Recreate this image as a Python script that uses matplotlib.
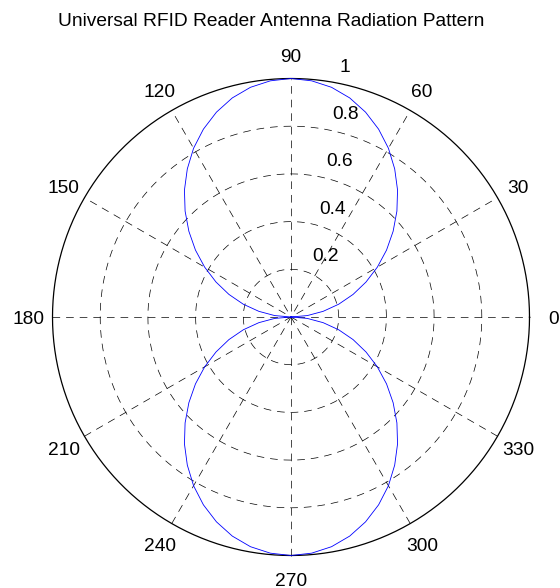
import numpy as np
import matplotlib
matplotlib.use("Agg")
import matplotlib.pyplot as plt
from matplotlib import transforms

# ---- data ----
title = "Universal RFID Reader Antenna Radiation Pattern"
angle_deg = list(range(0, 360, 5))
radius = [0.000, 0.069, 0.137, 0.207, 0.277, 0.347, 0.418, 0.489, 0.559, 0.628,
          0.695, 0.758, 0.817, 0.869, 0.914, 0.951, 0.978, 0.994, 1.000, 0.994,
          0.978, 0.951, 0.914, 0.869, 0.817, 0.758, 0.695, 0.628, 0.559, 0.489,
          0.418, 0.347, 0.277, 0.207, 0.137, 0.069,
          0.000, 0.069, 0.137, 0.207, 0.277, 0.347, 0.418, 0.489, 0.559, 0.628,
          0.695, 0.758, 0.817, 0.869, 0.914, 0.951, 0.978, 0.994, 1.000, 0.994,
          0.978, 0.951, 0.914, 0.869, 0.817, 0.758, 0.695, 0.628, 0.559, 0.489,
          0.418, 0.347, 0.277, 0.207, 0.137, 0.069]
ring_values = [0.2, 0.4, 0.6, 0.8, 1.0]
ring_labels = ["0.2", "0.4", "0.6", "0.8", "1"]
spoke_angles = [0, 30, 60, 90, 120, 150, 180, 210, 240, 270, 300, 330]
spoke_labels = ["0", "30", "60", "90", "120", "150", "180", "210", "240", "270", "300", "330"]

# ---- layout ----
W, H = 560, 588
cx, cy = 291.0, 317.0   # centre, pixels from left / top
R = 238.5               # pixels per unit radius
FS = 13.8
plt.rcParams["font.family"] = ["Liberation Sans", "DejaVu Sans"]
plt.rcParams["lines.scale_dashes"] = False

fig = plt.figure(figsize=(W / 100, H / 100), dpi=100)
fig.patch.set_facecolor("white")
ax = fig.add_axes([0, 0, 1, 1])
ax.set_xlim(-cx / R, (W - cx) / R)
ax.set_ylim(-(H - cy) / R, cy / R)
ax.axis("off")

dash = (0, (5.5, 4.3))
t = np.linspace(0, 2 * np.pi, 721)
for r in ring_values:
    if r < 1.0:
        ax.plot(r * np.cos(t), r * np.sin(t), color="black", lw=0.5, linestyle=dash)
rmax = max(ring_values)
ax.plot(rmax * np.cos(t), rmax * np.sin(t), color="black", lw=0.9)

for a in spoke_angles[:6]:
    ar = np.deg2rad(a)
    ax.plot([-rmax * np.cos(ar), rmax * np.cos(ar)],
            [-rmax * np.sin(ar), rmax * np.sin(ar)],
            color="black", lw=0.5, linestyle=dash)

# angle labels
digit_h = 0.716 * FS
lab_tr = transforms.offset_copy(ax.transData, fig=fig, y=-digit_h / 2, units="points")
for a, lab in zip(spoke_angles, spoke_labels):
    ar = np.deg2rad(a)
    ax.text(1.1 * rmax * np.cos(ar), 1.1 * rmax * np.sin(ar), lab,
            ha="center", va="baseline", fontsize=FS, transform=lab_tr)

# radial labels
c82, s82 = np.cos(np.deg2rad(82)), np.sin(np.deg2rad(82))
for r, lab in zip(ring_values, ring_labels):
    ax.text(r * c82 + 0.063, r * s82 + 0.037, lab, ha="left", va="baseline",
            fontsize=FS)

# pattern
th = np.deg2rad(np.array(angle_deg + [angle_deg[0]]))
rr = np.array(radius + [radius[0]])
ax.plot(rr * np.cos(th), rr * np.sin(th), color="#0000ff", lw=0.6)

fig.text(271 / W, 1 - 26 / H, title, ha="center", va="baseline", fontsize=FS)

fig.savefig("out.png", dpi=100, facecolor="white")
